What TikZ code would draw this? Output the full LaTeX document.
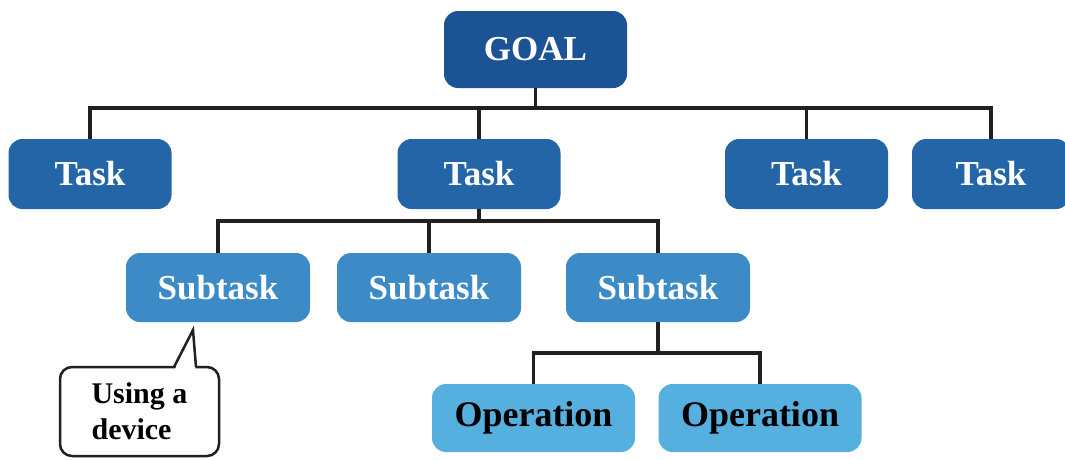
\documentclass[tikz,border=0pt]{standalone}
\usepackage{fontspec}
\setmainfont{Liberation Serif}
\definecolor{cgoal}{HTML}{1C5394}
\definecolor{ctask}{HTML}{2465A8}
\definecolor{csub}{HTML}{3C8BC6}
\definecolor{cop}{HTML}{55AFDF}
\definecolor{cline}{HTML}{231F20}
\begin{document}
\begin{tikzpicture}[x=1pt,y=-1pt,
  box/.style={rounded corners=14pt, inner sep=0pt, font=\fontsize{35}{40}\selectfont\bfseries},
  goalbox/.style={box, fill=cgoal, text=white, minimum width=183pt, minimum height=77pt},
  taskbox/.style={box, fill=ctask, text=white, minimum width=163pt, minimum height=70pt},
  subbox/.style={box, fill=csub, text=white, minimum width=184pt, minimum height=69pt},
  opbox/.style={box, fill=cop, text=black, minimum width=203pt, minimum height=68pt, font=\fontsize{36}{40}\selectfont\bfseries},
  conn/.style={draw=cline, line width=3.5pt},
  callout/.style={draw=cline, line width=2.5pt, fill=white, rounded corners=12pt, minimum width=159pt, minimum height=89pt, inner sep=0pt, align=left, font=\fontsize{30}{36}\selectfont\bfseries}
]
\useasboundingbox (0,0) rectangle (1065,459);
% nodes
\node[goalbox] (goal) at (535.5,49.5) {GOAL};
\node[taskbox] (t1) at (90,174) {Task};
\node[taskbox] (t2) at (479,174) {Task};
\node[taskbox] (t3) at (806.5,174) {Task};
\node[taskbox, minimum width=158pt] (t4) at (991,174) {Task};
\node[subbox] (s1) at (218,287.5) {Subtask};
\node[subbox] (s2) at (429,287.5) {Subtask};
\node[subbox] (s3) at (658,287.5) {Subtask};
\node[opbox] (o1) at (533.5,418) {Operation};
\node[opbox] (o2) at (760,418) {Operation};
% buses
\coordinate (b1) at (535.5,108);
\coordinate (b2) at (479,221);
\coordinate (b3) at (658,353);
\draw[conn] (goal.south) -- (b1);
\draw[conn] (t1.north) -- (t1.north |- b1) -- (t4.north |- b1) -- (t4.north);
\draw[conn] (t2.north) -- (t2.north |- b1);
\draw[conn] (t3.north) -- (t3.north |- b1);
\draw[conn] (t2.south) -- (b2);
\draw[conn] (s1.north) -- (s1.north |- b2) -- (s3.north |- b2) -- (s3.north);
\draw[conn] (s2.north) -- (s2.north |- b2);
\draw[conn] (s3.south) -- (b3);
\draw[conn] (o1.north) -- (o1.north |- b3) -- (o2.north |- b3) -- (o2.north);
% callout
\node[callout] (c) at (139.5,411.5) {Using a\\device};
\coordinate (tip) at (193,330);
\coordinate (tl) at (174,367);
\coordinate (tr) at (196,367);
\fill[white] (174.5,370) -- (tip) -- (195.5,370) -- cycle;
\draw[draw=cline, line width=2.5pt, line join=miter] (tl) -- (tip) -- (tr);
\end{tikzpicture}
\end{document}
